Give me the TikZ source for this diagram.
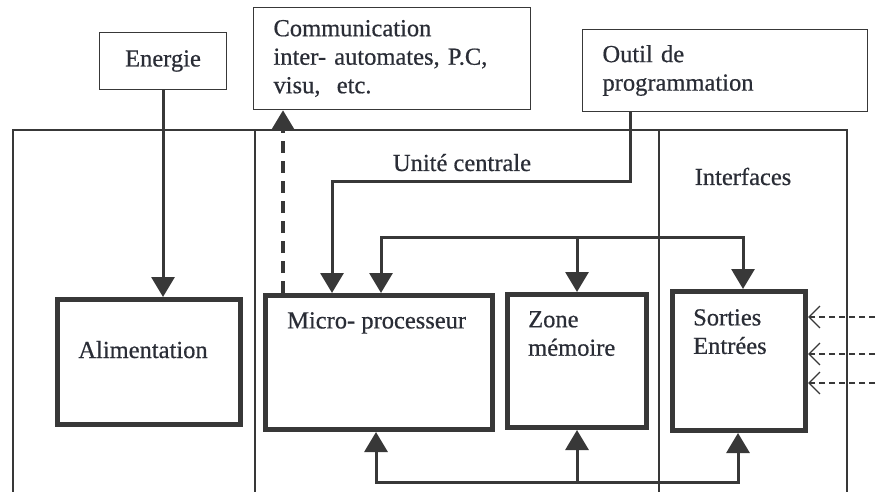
\documentclass[tikz,border=0pt]{standalone}
\usepackage{fontspec}
\setmainfont{Liberation Serif}[FakeBold=0.6]
\usepackage{xcolor}
\usetikzlibrary{arrows.meta,positioning}
\definecolor{ink}{HTML}{2A2D36}
\definecolor{trait}{HTML}{383838}

\begin{document}
\begin{tikzpicture}[
    x=1pt, y=-1pt,
    font=\fontsize{24.5}{28.5}\selectfont,
    every node/.style={text=ink},
    frame/.style={draw=trait, line width=1.4pt},
    ext/.style={draw=trait, line width=1.6pt, rectangle, inner xsep=20pt, align=left},
    unit/.style={draw=trait, line width=5pt, rectangle, inner sep=0pt},
    txt/.style={inner sep=0pt, align=left, anchor=north west},
    flow/.style={draw=trait, line width=3pt, -{Triangle[length=20pt,width=23pt]}},
    both/.style={draw=trait, line width=3pt, {Triangle[length=20pt,width=23pt]}-{Triangle[length=20pt,width=23pt]}},
    bus/.style={draw=trait, line width=3pt},
    dflow/.style={flow, line width=3.5pt, dash pattern=on 12pt off 8pt},
    feed/.style={draw=trait, line width=1.3pt, dash pattern=on 6pt off 4pt, -{Straight Barb[length=11pt,width=22pt]}}
]
\useasboundingbox (0,0) rectangle (876,492);

% outer frame
\draw[frame] (13,500) -- (13,130) -- (847,130) -- (847,500);
\draw[frame] (255,130) -- (255,500);
\draw[frame] (659,130) -- (659,500);

% external boxes
\node[ext, align=center, minimum width=127pt, minimum height=57pt] (energie) at (163,61) {Energie};
\node[ext, text width=237pt, minimum height=102pt] (comm) at (392,58.5) {Communication\\inter- automates, P.C,\\visu,\ \ etc.};
\node[ext, text width=245pt, minimum height=82pt] (outil) at (725,70.5) {Outil de\\programmation};

% units
\node[unit, minimum width=183pt, minimum height=125pt] (alim) at (149,362) {};
\node[unit, minimum width=227pt, minimum height=134pt] (micro) at (379,362.5) {};
\node[unit, minimum width=139pt, minimum height=133pt] (zone) at (577,361) {};
\node[unit, minimum width=133pt, minimum height=139pt] (sortie) at (739,361) {};

\node[anchor=base, inner sep=0pt] (alimtxt) at (143,358) {Alimentation};
\node[txt] (microtxt) at (287,312) {Micro- processeur};
\node[txt] (zonetxt) at (528,311) {Zone\\mémoire};
\node[txt] (sortietxt) at (693,309) {Sorties\\Entrées};
\node[anchor=base] (uc) at (462,171) {Unité centrale};
\node[anchor=base] (itf) at (743,185) {Interfaces};

% connections
\draw[flow] (energie.south) -- (energie.south |- alim.north);

\coordinate (pc) at (283,200);
\draw[dflow] (micro.north -| pc) -- (comm.south -| pc);

\coordinate (po) at (630,182);
\coordinate (pk) at (332,182);
\draw[flow] (outil.south -| po) -- (po) -- (pk) -- (pk |- micro.north);

\coordinate (tl) at (381,237);
\coordinate (tr) at (743,237);
\draw[both] (tl |- micro.north) -- (tl) -- (tr) -- (tr |- sortie.north);
\draw[flow] (zone.north |- tl) -- (zone.north);

\coordinate (bl) at (376,482);
\coordinate (br) at (738,482);
\draw[both] (bl |- micro.south) -- (bl) -- (br) -- (br |- sortie.south);
\draw[flow] (zone.south |- bl) -- (zone.south);

\foreach \y [count=\i] in {317,354,383} {
  \coordinate (in\i) at (885,\y);
  \draw[feed] (in\i) -- (in\i -| sortie.east);
}
\end{tikzpicture}
\end{document}
